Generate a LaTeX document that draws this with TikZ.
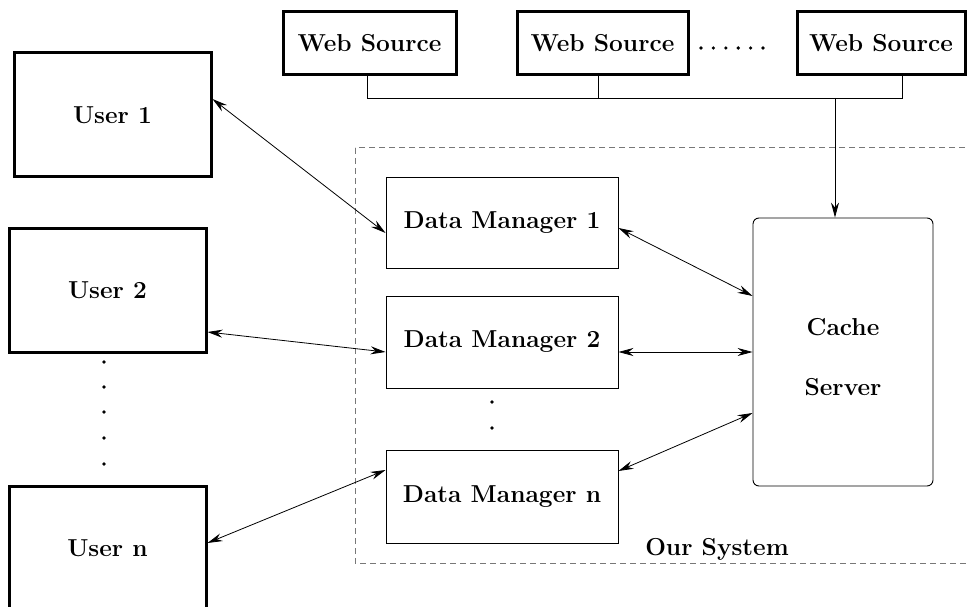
\documentclass[tikz,border=0pt]{standalone}
\usetikzlibrary{arrows.meta,calc}
\definecolor{dashgray}{RGB}{120,120,120}
\begin{document}
\begin{tikzpicture}[x=1pt,y=-1pt,
  lbl/.style={font=\fontsize{24.5}{29}\selectfont\bfseries},
  thickbox/.style={draw,line width=3pt,lbl,inner sep=0pt},
  thinbox/.style={draw,line width=0.9pt,lbl,inner sep=0pt},
  link/.style={line width=0.8pt,{Stealth[length=15pt,width=8pt,inset=5pt]}-{Stealth[length=15pt,width=8pt,inset=5pt]}},
  onelink/.style={line width=0.8pt,-{Stealth[length=15pt,width=8pt,inset=5pt]}},
  bus/.style={line width=0.8pt}
]
\useasboundingbox (0,0) rectangle (967,607);
\clip (0,0) rectangle (967,607);

% system frame
\draw[dashgray,line width=1pt,dash pattern=on 6pt off 4pt] (355,148) rectangle (980,563);
\node[lbl] (oursys) at (717,549) {Our System};

% web sources
\node[thickbox,minimum width=173pt,minimum height=63pt] (web1) at (369.5,43.5) {Web Source};
\node[thickbox,minimum width=171pt,minimum height=63pt] (web2) at (602.5,43.5) {Web Source};
\node[thickbox,minimum width=168pt,minimum height=63pt] (web3) at (881,43.5) {Web Source};
\foreach \i in {0,...,5} \fill (701+12.4*\i,48) circle (1.8pt);

% users
\node[thickbox,minimum width=197pt,minimum height=124pt] (user1) at (112.5,115) {User 1};
\node[thickbox,minimum width=197pt,minimum height=124pt] (user2) at (107.5,290) {User 2};
\node[thickbox,minimum width=197pt,minimum height=124pt] (usern) at (107.5,548) {User n};
\foreach \y in {362,387,412,438,464} \fill (104,\y) circle (1.8pt);

% data managers
\node[thinbox,minimum width=232pt,minimum height=91pt] (dm1) at (502,222.5) {Data Manager 1};
\node[thinbox,minimum width=232pt,minimum height=92pt] (dm2) at (502,342) {Data Manager 2};
\node[thinbox,minimum width=232pt,minimum height=93pt] (dmn) at (502,496.5) {Data Manager n};
\foreach \y in {402,428} \fill (492,\y) circle (1.8pt);

% cache server
\node[thinbox,rounded corners=6pt,minimum width=180pt,minimum height=268pt,
  label={[lbl,align=center,yshift=-5.5pt]center:Cache\\[31pt]Server}] (cache) at (843,352) {};

% bus
\coordinate (b1) at (367,98);
\coordinate (b2) at (598,98);
\coordinate (b3) at (902,98);
\coordinate (bc) at (835,98);
\draw[bus] (web1.south -| b1) -- (b1) -- (b3) -- (web3.south -| b3);
\draw[bus] (web2.south -| b2) -- (b2);
\draw[onelink] (bc) -- (cache.north -| bc);

% links
\draw[link] ([yshift=16pt]user1.east) -- ([yshift=-10.5pt]dm1.west);
\draw[link] ([yshift=-42pt]user2.east) -- ([yshift=-10pt]dm2.west);
\draw[link] ([yshift=5pt]usern.east) -- ([yshift=26.5pt]dmn.west);
\draw[link] ([yshift=-5.5pt]dm1.east) -- ([yshift=56pt]cache.west);
\draw[link] ([yshift=-10pt]dm2.east) -- (cache.west);
\draw[link] ([yshift=25.5pt]dmn.east) -- ([yshift=-61pt]cache.west);
\end{tikzpicture}
\end{document}
